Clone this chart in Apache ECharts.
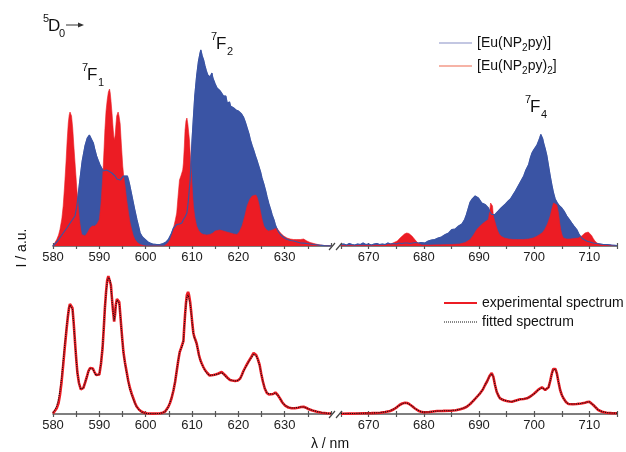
<!DOCTYPE html>
<html>
<head>
<meta charset="utf-8">
<script src="https://cdn.jsdelivr.net/npm/echarts@6/dist/echarts.min.js"></script>
<style>
  html, body { margin: 0; padding: 0; background: #fff; }
  #chart { width: 626px; height: 452px; }
</style>
</head>
<body>
<div id="chart"></div>
<script>
// Emission spectra, 5D0 -> 7FJ transitions, broken wavelength axis (580-640 | 665-715 nm)

// wavelength ranges of the two axis segments
const rangeLeft = [580, 640];
const rangeRight = [665, 715];

// upper panel: [Eu(NP2py)]  (blue), [Eu(NP2py)2] (red)  — [nm, intensity]
const euMonoLeft = [[580,0],[580.4,1.5],[581,5],[581.6,9],[582.2,13],[583,18],[583.7,23],[584.3,27],[584.75,30],[585.2,42],[585.8,66],[586.3,85],[586.9,100],[587.4,108],[587.85,111],[588.2,109],[588.7,103],[589,97],[589.4,90],[589.8,85],[590.15,81],[590.5,78],[590.9,75],[591.5,76],[592,75],[592.4,74],[592.7,73],[593,72],[593.4,70],[593.8,67],[594.1,65],[594.5,66],[594.8,68],[595.2,70],[595.55,71.5],[596.05,70],[596.3,66],[596.6,60],[597,51],[597.35,43],[597.7,35],[598.1,26.5],[598.5,19],[598.8,13],[599.3,9],[599.9,6.5],[600.5,4],[600.95,3],[601.5,2],[602.4,1.5],[603.1,1.5],[603.8,2.5],[604.4,4],[604.9,6.5],[605.5,12],[606,18],[606.7,21.5],[607.3,22],[607.8,23],[608.15,26.5],[608.5,29],[608.9,33],[609.2,45],[609.6,66],[610,105],[610.3,128],[610.6,150],[611,170],[611.4,185],[611.7,192],[611.9,196],[612.2,190],[612.5,186],[612.8,180],[613.1,175],[613.4,171],[613.6,170],[613.9,169],[614.1,171],[614.3,173],[614.5,168],[614.7,166],[615,162],[615.2,163],[615.4,158],[615.7,157],[616.1,155],[616.3,153],[616.5,156],[616.8,150],[617.1,148],[617.3,150],[617.6,143],[617.9,142],[618.1,144],[618.3,140],[618.7,139],[619,138],[619.3,139],[619.5,136],[619.7,135],[620,135],[620.4,133],[620.7,132],[621.1,129],[621.5,124],[621.9,118],[622.3,112],[622.6,106],[623,100],[623.3,96],[623.7,90],[624,86],[624.4,80],[624.8,74],[625.1,68],[625.5,62],[625.9,55],[626.2,49],[626.6,42],[627,36],[627.3,31],[627.7,26],[628,21],[628.4,16.5],[628.7,14],[629.1,11.5],[629.8,8.5],[630.6,6.5],[631.3,5.5],[632,5],[632.7,4],[633.4,3],[634.1,2.8],[634.8,2.5],[635.5,2],[636.3,1.5],[637.5,0.8],[638.5,0.3],[640,0]];
const euBisLeft = [[580,0],[580.4,2],[580.8,6.5],[581.2,11],[581.5,16.5],[581.9,27],[582.2,40],[582.5,60],[582.8,83],[583.05,105],[583.3,123],[583.5,131],[583.67,134],[583.85,133],[584,130],[584.25,118],[584.5,100],[584.8,80],[585.1,60],[585.4,42],[585.7,26.5],[586,16],[586.2,11.5],[586.5,10],[586.9,10],[587.4,13],[588,18],[588.5,20],[589,20],[589.5,22],[590,26.5],[590.35,42],[590.7,66],[591,95],[591.2,116],[591.45,135],[591.7,146],[591.95,154],[592.2,157],[592.35,153],[592.5,146],[592.75,132],[593,116],[593.2,106],[593.4,110],[593.6,122],[593.75,130],[594.05,134],[594.25,130],[594.5,122],[594.75,102],[595.05,80],[595.3,68],[595.55,60],[595.9,46],[596.3,33],[596.6,24],[597,16],[597.35,10],[597.7,6.5],[598.2,3.5],[598.8,1.5],[599.5,0.5],[600,0],[604,0],[604.8,3],[605.3,6.5],[605.7,12],[606.1,20],[606.4,26],[606.7,33],[607,50],[607.3,66],[607.6,70],[607.8,70],[608,76],[608.15,83],[608.35,100],[608.5,116],[608.7,125],[608.9,128],[609.1,122],[609.45,106],[609.7,86],[609.95,66],[610.1,54],[610.3,40],[610.6,29],[611,20],[611.5,15],[612,12.5],[612.5,11.5],[613.2,11],[613.9,11.5],[614.5,13],[615,15],[615.4,16.5],[616,16],[616.8,15],[617.5,14],[618.3,13],[619,12],[619.7,11.5],[620.2,14],[620.8,20],[621.4,30],[621.9,40],[622.5,47],[623,50],[623.4,51.5],[623.8,51],[624.1,48],[624.4,43],[624.8,34],[625.1,27],[625.5,20],[626,16.5],[626.5,15],[627,15.5],[627.6,16.5],[628.3,18],[628.7,16],[629.1,13],[629.8,10],[630.5,8],[631.2,7],[631.9,6.5],[632.6,6.5],[633.4,6.5],[634.1,7],[634.8,5],[635.5,3.5],[636.3,2.5],[637.3,1.3],[638.5,0.5],[640,0]];
const euMonoRight = [[665,1.5],[665.5,2],[666,1],[666.5,2.5],[667,1.5],[667.5,1],[668,2],[668.5,1.5],[669,3],[669.5,1.5],[670,2],[670.5,1],[671,2],[671.5,2.5],[672,1.5],[672.5,2],[673,1.5],[673.5,3],[674,2],[674.5,2.5],[675,2],[675.5,3],[676,2.5],[676.5,3],[677,3],[677.5,2.5],[678,3],[678.5,3.5],[679,3],[679.5,3.5],[680.2,3],[680.8,5],[681.4,6],[682,6.5],[682.6,8],[683.2,9],[683.9,11.5],[684.5,13],[685.1,16.5],[685.7,17],[686.3,20],[686.9,22],[687.4,26.5],[687.7,31],[688,36.5],[688.4,44],[688.7,46.5],[689,48],[689.3,50],[689.6,49],[689.9,48],[690.2,50],[690.5,43],[690.8,44],[691.1,41.5],[691.4,40],[691.7,38],[692,34],[692.3,31.5],[692.6,30],[692.9,31.5],[693.2,33],[693.5,35],[694,38],[694.4,40],[694.8,42],[695.3,45],[695.7,47],[696.2,51.5],[696.6,55],[697.1,60],[697.6,65],[698.1,70],[698.5,76],[699,81.5],[699.3,88],[699.6,93],[699.9,96],[700.2,98],[700.5,101],[700.8,105],[701,108],[701.2,111.5],[701.4,113],[701.55,107],[701.7,103],[702,97],[702.3,90],[702.6,80],[702.9,70],[703.2,61],[703.5,53],[703.8,47],[704.2,43],[704.6,40],[705,38],[705.4,35],[705.9,30],[706.3,27],[706.8,23],[707.2,20],[707.7,16.5],[708.1,12],[708.6,8],[709,6.5],[709.5,5],[710.1,4],[710.7,3],[711.3,2.5],[712,2],[712.5,1.5],[713.2,1.5],[714,1],[715,0.5]];
const euBisRight = [[665,0.5],[668,0.5],[671,0.8],[673,1],[674,2],[675.2,5],[675.7,8],[676.1,10],[676.5,12],[676.9,13],[677.3,12.5],[677.85,10],[678.3,7],[678.75,4],[679.2,2],[679.65,1],[681,1],[683,1.2],[685,1.5],[686.5,2],[687.5,3.5],[688.4,6.5],[689,11],[689.6,16.5],[690.2,20],[690.8,23],[691.3,25],[691.7,26.5],[691.95,35],[692.1,43],[692.3,44.5],[692.45,40],[692.6,30],[692.85,25],[693.1,20],[693.4,15],[693.7,11.5],[694.1,9.5],[694.6,8],[695.4,7],[696.2,6.5],[697,6.5],[698,6.5],[699,7],[699.8,8],[700.4,9.5],[701,11.5],[701.5,13.5],[701.9,16.5],[702.4,22],[702.9,30],[703.2,37],[703.5,43],[703.8,45],[704.1,41],[704.4,33],[704.6,24],[704.8,16.5],[705.05,11],[705.3,8],[705.9,7],[706.5,7],[707.2,7.5],[708,8],[708.6,10],[709.2,13],[709.8,14],[710.1,13],[710.4,10.5],[710.7,7.5],[711,5],[711.4,3],[711.9,1.5],[712.8,0.8],[713.7,0.5],[715,0.3]];

// lower panel: experimental and fitted spectrum
const expLeft = [[580,0.5],[580.4,2.5],[580.8,5.7],[581.2,11],[581.5,19],[581.85,32],[582.2,49],[582.55,67],[582.95,86],[583.2,97],[583.45,106],[583.65,110],[583.8,111],[584,109],[584.2,106],[584.45,92],[584.75,72],[585,56],[585.25,42],[585.6,31],[586,24.5],[586.3,24],[586.55,26],[586.9,31],[587.3,37],[587.65,43],[588,46],[588.3,46.5],[588.6,45.5],[588.95,42],[589.3,39],[589.65,38],[590,39.5],[590.35,50],[590.7,66],[590.95,85],[591.2,106],[591.45,122],[591.7,134],[591.95,138],[592.2,139],[592.35,136],[592.5,129],[592.7,117],[592.9,106],[593.2,92.5],[593.4,100],[593.55,109],[593.8,115],[594,117],[594.15,116],[594.3,112],[594.5,101],[594.7,89],[594.95,75],[595.2,62],[595.55,51],[595.9,42],[596.25,33],[596.6,26],[597,20],[597.35,15.5],[597.7,11],[598.05,7.5],[598.6,4.3],[599.15,2.3],[599.7,1.2],[600.2,0.7],[601.5,0.4],[603.1,0.7],[603.7,1.3],[604.2,2.5],[604.6,4.5],[604.9,7.3],[605.25,11],[605.6,16],[606,23.5],[606.35,32],[606.7,43],[607.05,54],[607.35,62],[607.65,66],[607.9,68],[608.15,73],[608.3,85],[608.5,99],[608.7,111],[608.9,119],[609.15,122],[609.35,119],[609.6,112],[609.85,101],[610.1,89],[610.3,81],[610.5,77],[610.75,74],[611,70.5],[611.25,65],[611.5,59],[611.8,54],[612.1,50.5],[612.45,47],[612.8,44],[613.3,41],[613.8,38.5],[614.2,38.5],[614.6,39],[615.1,39.5],[615.7,40.5],[616.1,41.5],[616.4,42],[616.75,40.5],[617.1,39],[617.6,36.5],[618.2,34],[618.7,33.5],[619.3,33],[619.9,33.5],[620.4,35.5],[620.75,39],[621.1,43],[621.6,47.5],[622.2,52.5],[622.8,57],[623.3,61],[623.6,60.5],[623.85,59],[624.2,55],[624.6,49],[624.95,40],[625.3,32.5],[625.7,25.5],[626.15,21],[626.6,19.5],[627,19],[627.5,20],[628,21.5],[628.5,19],[629,15.5],[629.5,11.5],[630.1,8.3],[630.8,6.5],[631.5,5.7],[632.2,5.8],[632.9,6.3],[633.5,7],[634.1,7.3],[634.6,6.3],[635.1,5],[636,3.5],[637,2.3],[638,1.3],[639.1,0.7],[640,0.5]];
const fitLeft = [[580,1.5],[580.4,4],[580.8,8],[581.2,15],[581.5,23],[581.85,36],[582.2,53],[582.55,70],[582.95,88],[583.2,98],[583.45,106],[583.65,109],[583.8,110],[584,108.5],[584.2,105],[584.45,91],[584.75,71],[585,55],[585.25,41.5],[585.6,31],[586,25],[586.3,24.5],[586.55,26],[586.9,31],[587.3,37],[587.65,42.5],[588,45.5],[588.3,46],[588.6,45],[588.95,41.5],[589.3,38.5],[589.65,38],[590,40],[590.35,51],[590.7,67],[590.95,86],[591.2,106],[591.45,121],[591.7,132],[591.95,136.5],[592.2,137],[592.35,134],[592.5,127],[592.7,116],[592.9,105],[593.2,93.5],[593.4,100.5],[593.55,108],[593.8,114],[594,116],[594.15,115],[594.3,111],[594.5,100],[594.7,88],[594.95,74],[595.2,61],[595.55,50],[595.9,41],[596.25,32],[596.6,25],[597,19],[597.35,14.5],[597.7,10.5],[598.05,7],[598.6,4],[599.15,2],[599.7,1],[600.2,0.5],[601.5,0.3],[603.1,0.6],[603.7,1.2],[604.2,2.4],[604.6,4.6],[604.9,7.5],[605.25,11.5],[605.6,16.5],[606,24],[606.35,32.5],[606.7,43.5],[607.05,54.5],[607.35,62],[607.65,65.5],[607.9,68],[608.15,73.5],[608.3,85],[608.5,98],[608.7,109],[608.9,116.5],[609.15,119],[609.35,117],[609.6,110.5],[609.85,100],[610.1,88.5],[610.3,80.5],[610.5,76.5],[610.75,73.5],[611,70],[611.25,64.5],[611.5,58.5],[611.8,53.5],[612.1,50],[612.45,46.5],[612.8,43.5],[613.3,40.5],[613.8,38.5],[614.2,38.5],[614.6,39],[615.1,39.5],[615.7,40],[616.1,41],[616.4,41.5],[616.75,40],[617.1,38.5],[617.6,36],[618.2,34],[618.7,33.5],[619.3,33],[619.9,33.5],[620.4,35.5],[620.75,38.5],[621.1,42.5],[621.6,47],[622.2,52],[622.8,56.5],[623.3,60],[623.6,59.5],[623.85,58],[624.2,54.5],[624.6,48.5],[624.95,40],[625.3,32.5],[625.7,26],[626.15,21.5],[626.6,20],[627,19.5],[627.5,20],[628,21],[628.5,19],[629,15.5],[629.5,11.5],[630.1,8.5],[630.8,6.8],[631.5,6],[632.2,6],[632.9,6.5],[633.5,7],[634.1,7],[634.6,6.2],[635.1,5.2],[636,3.6],[637,2.4],[638,1.4],[639.1,0.8],[640,0.5]];
const expRight = [[665,0.3],[666.5,0.4],[668,0.5],[669.1,0.7],[670.5,0.9],[672.1,1.3],[673,2],[673.9,3],[674.5,4.5],[675.1,6.7],[675.6,9],[676.1,10.5],[676.6,11.3],[677,11],[677.4,9.8],[677.85,8],[678.4,5.5],[679,3.3],[679.5,2.2],[679.95,1.7],[681,2],[682.4,3],[683.5,3.1],[684.8,3.3],[685.8,3.8],[686.6,4.7],[687.2,5.8],[687.8,7.3],[688.4,10],[689,13.3],[689.6,17],[690.2,20.7],[690.7,24.5],[691.1,29],[691.5,33],[691.9,38],[692.1,40],[692.3,41],[692.45,40],[692.6,37.3],[692.9,29],[693.2,22.3],[693.5,18.5],[693.8,15.7],[694.4,14],[695,13],[695.5,12.5],[695.95,12.3],[696.7,13.5],[697.45,14.7],[698.1,15],[698.7,15.7],[699.3,17.5],[699.9,20],[700.4,22.5],[700.8,24.7],[701.1,26],[701.4,26.7],[701.7,25.5],[702,24],[702.3,25],[702.6,26.7],[702.9,33],[703.2,40.7],[703.45,45],[703.65,46.7],[703.85,45],[704.1,40.7],[704.4,32],[704.7,24],[705,19],[705.3,15.7],[705.75,12],[706.2,10],[707,9.8],[707.7,10],[708.5,10.5],[709.2,11.3],[709.6,12],[710,12.3],[710.35,11],[710.7,9],[711.15,6.5],[711.6,4],[712.3,2.3],[713.1,1.3],[714,0.9],[715,0.7]];
const fitRight = [[665,0.4],[666.5,0.5],[668,0.6],[669.1,0.8],[670.5,1],[672.1,1.4],[673,2.1],[673.9,3.2],[674.5,4.7],[675.1,6.8],[675.6,8.8],[676.1,10.3],[676.6,11],[677,10.8],[677.4,9.7],[677.85,8],[678.4,5.6],[679,3.4],[679.5,2.3],[679.95,1.8],[681,2.1],[682.4,2.9],[683.5,3.2],[684.8,3.4],[685.8,3.9],[686.6,4.8],[687.2,5.9],[687.8,7.4],[688.4,10.1],[689,13.4],[689.6,17.1],[690.2,20.8],[690.7,24.6],[691.1,29],[691.5,33],[691.9,37.5],[692.1,39.5],[692.3,40.3],[692.45,39.5],[692.6,37],[692.9,29],[693.2,22.5],[693.5,18.6],[693.8,15.8],[694.4,14.1],[695,13.1],[695.5,12.6],[695.95,12.4],[696.7,13.4],[697.45,14.6],[698.1,15.1],[698.7,15.8],[699.3,17.4],[699.9,19.8],[700.4,22.3],[700.8,24.4],[701.1,25.6],[701.4,26.2],[701.7,25.3],[702,24.2],[702.3,25],[702.6,26.8],[702.9,33],[703.2,40.3],[703.45,44.5],[703.65,46],[703.85,44.6],[704.1,40.4],[704.4,32],[704.7,24.2],[705,19.2],[705.3,15.8],[705.75,12.1],[706.2,10.1],[707,9.9],[707.7,10.1],[708.5,10.6],[709.2,11.3],[709.6,11.9],[710,12.1],[710.35,11],[710.7,9.1],[711.15,6.6],[711.6,4.1],[712.3,2.4],[713.1,1.4],[714,1],[715,0.8]];

const BLUE = '#3a54a4';
const RED = '#ec1c24';
const AXIS = '#555';
const FONT = '"Liberation Sans", Arial, Helvetica, sans-serif';

// plot geometry
const leftX = 53, leftW = 278;
const rightX = 341, rightW = 276;
const topY = 46, topH = 200;
const botY = 264, botH = 150;

const grids = [
  { left: leftX, top: topY, width: leftW, height: topH },
  { left: rightX, top: topY, width: rightW, height: topH },
  { left: leftX, top: botY, width: leftW, height: botH },
  { left: rightX, top: botY, width: rightW, height: botH }
];

function mainX(g, range, hideMax) {
  return {
    type: 'value', gridIndex: g, min: range[0], max: range[1], interval: 5,
    position: 'bottom',
    axisLine: { show: true, onZero: false, lineStyle: { color: AXIS, width: 1.5 } },
    axisTick: { show: true, inside: false, length: 3, lineStyle: { color: AXIS, width: 1.2 } },
    axisLabel: {
      show: true, color: '#222', fontSize: 13, fontFamily: FONT, margin: 5,
      showMaxLabel: !hideMax,
      formatter: v => (v % 10 === 0 ? String(v) : '')
    },
    splitLine: { show: false }
  };
}
// companion axis drawing the upward half of each tick
function tickX(g, range, h) {
  return {
    type: 'value', gridIndex: g, min: range[0], max: range[1], interval: 5,
    position: 'top', offset: -h,
    axisLine: { show: false },
    axisTick: { show: true, inside: false, length: 3, lineStyle: { color: AXIS, width: 1.2 } },
    axisLabel: { show: false },
    splitLine: { show: false }
  };
}
function hiddenY(g, max) {
  return { type: 'value', gridIndex: g, min: 0, max: max, show: false, splitLine: { show: false } };
}

const xAxes = [
  mainX(0, rangeLeft, true), mainX(1, rangeRight, false),
  mainX(2, rangeLeft, true), mainX(3, rangeRight, false),
  tickX(0, rangeLeft, topH), tickX(1, rangeRight, topH),
  tickX(2, rangeLeft, botH), tickX(3, rangeRight, botH)
];
const yAxes = [hiddenY(0, 200), hiddenY(1, 200), hiddenY(2, 150), hiddenY(3, 150)];

function fill(name, data, g, color, z) {
  return {
    name, type: 'line', data, xAxisIndex: g, yAxisIndex: g, showSymbol: false, symbol: 'none',
    lineStyle: { width: 0.6, color }, areaStyle: { color, opacity: 1 }, z, silent: true
  };
}
function outline(name, data, g, color, width, type, z) {
  return {
    name, type: 'line', data, xAxisIndex: g, yAxisIndex: g, showSymbol: false, symbol: 'none',
    lineStyle: { width, color, type }, z, silent: true
  };
}

const series = [
  fill('[Eu(NP2py)]', euMonoLeft, 0, BLUE, 2),
  fill('[Eu(NP2py)2]', euBisLeft, 0, RED, 3),
  outline('[Eu(NP2py)] line', euMonoLeft, 0, BLUE, 1.2, 'solid', 4),
  fill('[Eu(NP2py)] ', euMonoRight, 1, BLUE, 2),
  fill('[Eu(NP2py)2] ', euBisRight, 1, RED, 3),
  outline('[Eu(NP2py)] line ', euMonoRight, 1, BLUE, 1.2, 'solid', 4),
  outline('experimental spectrum', expLeft, 2, RED, 2.6, 'solid', 3),
  outline('fitted spectrum', fitLeft, 2, '#111', 1.1, 'dotted', 4),
  outline('experimental spectrum ', expRight, 3, RED, 2.6, 'solid', 3),
  outline('fitted spectrum ', fitRight, 3, '#111', 1.1, 'dotted', 4)
];

function txt(x, y, text, size, extra) {
  return Object.assign({
    type: 'text', x, y, silent: true, z: 50,
    style: { text, font: size + 'px ' + FONT, fill: '#111', textVerticalAlign: 'middle' }
  }, extra || {});
}
// term symbol: superscript, letter, subscript placed around the letter
function term(x, y, sup, letter, sub) {
  return [
    txt(x - 5, y - 7, sup, 11),
    txt(x, y, letter, 17),
    txt(x + 11, y + 8, sub, 11)
  ];
}
function seg(x1, y1, x2, y2, stroke, width, dash) {
  return {
    type: 'line', silent: true, z: 50,
    shape: { x1, y1, x2, y2 },
    style: { stroke, lineWidth: width, lineDash: dash || null }
  };
}

const legendRich = { s: { fontSize: 10, fontFamily: FONT, verticalAlign: 'bottom', lineHeight: 20, fill: '#111' } };
const graphics = [].concat(
  term(48, 26, '5', 'D', '0'),
  [seg(66, 25, 80, 25, '#333', 1), { type: 'polygon', silent: true, z: 50, shape: { points: [[84, 25], [78, 22.5], [78, 27.5]] }, style: { fill: '#333' } }],
  term(87, 75, '7', 'F', '1'),
  term(216, 44, '7', 'F', '2'),
  term(530, 107, '7', 'F', '4'),
  [
    // legend, upper panel
    seg(439, 43, 472, 43, '#c3c7e2', 2),
    seg(439, 66, 472, 66, '#f6b3a6', 2),
    { type: 'text', x: 477, y: 43, silent: true, z: 50, style: { text: '[Eu(NP{s|2}py)]', font: '14px ' + FONT, fill: '#111', textVerticalAlign: 'middle', lineHeight: 20, rich: legendRich } },
    { type: 'text', x: 477, y: 66, silent: true, z: 50, style: { text: '[Eu(NP{s|2}py){s|2}]', font: '14px ' + FONT, fill: '#111', textVerticalAlign: 'middle', lineHeight: 20, rich: legendRich } },
    // legend, lower panel
    seg(444, 303, 477, 303, RED, 2),
    seg(444, 322, 477, 322, '#111', 1, [1, 1]),
    txt(482, 303, 'experimental spectrum', 14),
    txt(482, 322, 'fitted spectrum', 14),
    // axis titles
    txt(22, 248, 'I / a.u.', 14, { rotation: Math.PI / 2, style: { text: 'I / a.u.', font: '14px ' + FONT, fill: '#111', textAlign: 'center', textVerticalAlign: 'middle' } }),
    txt(330, 444, 'λ / nm', 14, { style: { text: 'λ / nm', font: '14px ' + FONT, fill: '#111', textAlign: 'center', textVerticalAlign: 'middle' } }),
    // axis break marks
    seg(329, 250, 335, 243, '#444', 1.2), seg(336, 250, 342, 243, '#444', 1.2),
    seg(329, 418, 335, 411, '#444', 1.2), seg(336, 418, 342, 411, '#444', 1.2)
  ]
);

const chart = echarts.init(document.getElementById('chart'), null, { renderer: 'canvas' });
chart.setOption({
  animation: false,
  backgroundColor: '#fff',
  grid: grids,
  xAxis: xAxes,
  yAxis: yAxes,
  series: series,
  graphic: graphics
});
</script>
</body>
</html>
